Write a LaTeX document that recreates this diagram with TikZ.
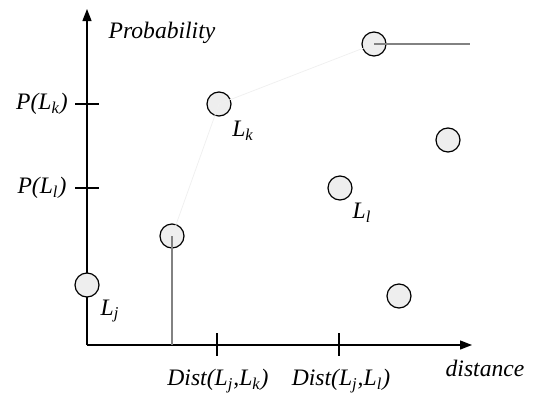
\documentclass[tikz,border=0pt]{standalone}
\usepackage{fontspec}
\setmainfont{Liberation Serif}
\usepackage{xcolor}
\usepackage{tikz}
\usetikzlibrary{arrows.meta,positioning}
\definecolor{dotfill}{RGB}{238,238,238}
\definecolor{dropline}{RGB}{130,130,130}
\definecolor{faintline}{RGB}{240,240,240}
\tikzset{
  axis/.style={line width=0.65pt, -{Triangle[length=6pt,width=4.5pt]}},
  tick/.style={line width=0.6pt},
  dot/.style={circle, draw=black, line width=0.6pt, fill=dotfill,
              minimum size=12pt, inner sep=0pt},
  lbl/.style={font=\fontsize{11.8}{14}\selectfont\itshape, inner sep=0pt},
  drop/.style={draw=dropline, line width=0.6pt},
  faint/.style={draw=faintline, line width=0.4pt},
}

\begin{document}
\begin{tikzpicture}[x=0.5pt,y=-0.5pt]
  \useasboundingbox (0,0) rectangle (540,396);
  % axes
  \coordinate (o) at (87,345);
  \coordinate (xend) at (472,345);
  \coordinate (yend) at (87,9);
  \draw[axis] (o) -- (xend);
  \draw[axis] (o) -- (yend);
  \node[lbl] (ylab) at (162,33) {Probability};
  \node[lbl] (xlab) at (485,368) {distance};
  % ticks
  \coordinate (pk) at (87,104);
  \coordinate (pl) at (87,188);
  \coordinate (dk) at (217,345);
  \coordinate (dl) at (339,345);
  \draw[tick] ([xshift=-6pt]pk) -- ([xshift=6pt]pk);
  \draw[tick] ([xshift=-6pt]pl) -- ([xshift=6pt]pl);
  \draw[tick] ([yshift=6pt]dk) -- ([yshift=-5.5pt]dk);
  \draw[tick] ([yshift=6pt]dl) -- ([yshift=-5.5pt]dl);
  \node[lbl] (pklab) at (42,104) {P(L\textsubscript{k})};
  \node[lbl] (pllab) at (42,188) {P(L\textsubscript{l})};
  \node[lbl] (dklab) at (218,381) {Dist(L\textsubscript{j},L\textsubscript{k})};
  \node[lbl] (dllab) at (341,381) {Dist(L\textsubscript{j},L\textsubscript{l})};
  % points
  \node[dot] (lj) at (87,285) {};
  \node[dot] (lmid) at (172,236) {};
  \node[dot] (lk) at (219,104) {};
  \node[dot] (ltop) at (374,44) {};
  \node[dot] (lright) at (448,140) {};
  \node[dot] (ll) at (340,188) {};
  \node[dot] (lbot) at (399,296) {};
  \node[lbl] (ljlab) at (110,311) {L\textsubscript{j}};
  \node[lbl] (lklab) at (243,131) {L\textsubscript{k}};
  \node[lbl] (lllab) at (362,213) {L\textsubscript{l}};
  % lines
  \coordinate (midfoot) at (172,345);
  \coordinate (topend) at (470,44);
  \draw[faint] (lmid.center) -- (lk.center) -- (ltop.center);
  \draw[drop] (lmid.center) -- (midfoot);
  \draw[drop] (ltop.center) -- (topend);
\end{tikzpicture}
\end{document}
